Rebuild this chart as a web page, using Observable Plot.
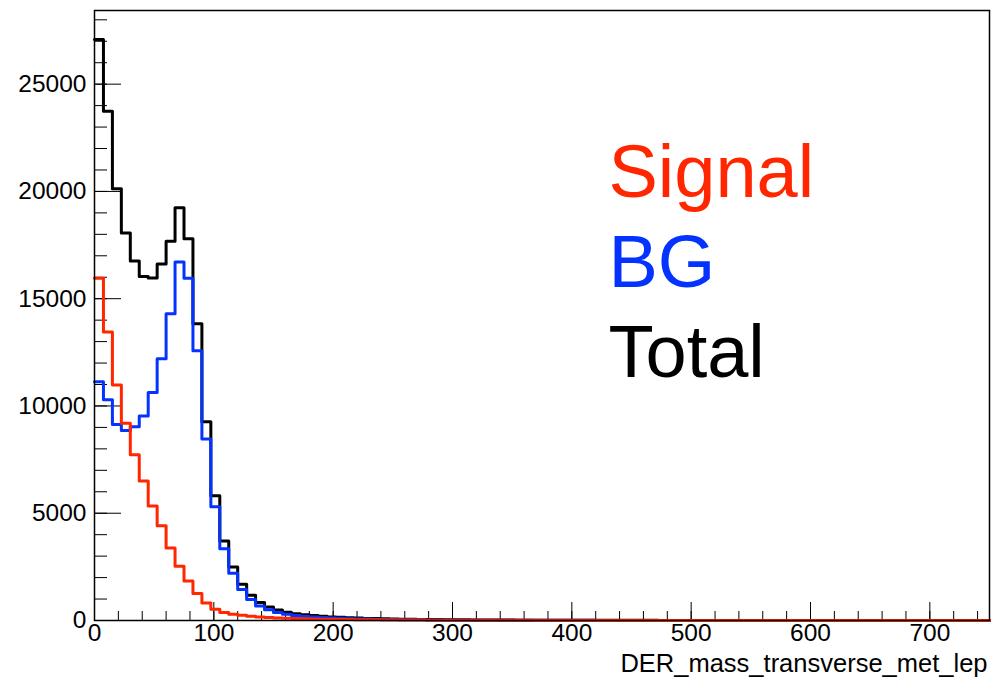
<!DOCTYPE html>
<html>
<head>
<meta charset="utf-8">
<script src="https://cdn.jsdelivr.net/npm/d3@7"></script>
<script src="https://cdn.jsdelivr.net/npm/@observablehq/plot@0.6"></script>
<style>
  html, body { margin: 0; padding: 0; background: #fff; }
  #chart svg { display: block; }
</style>
</head>
<body>
<div id="chart"></div>
<script>
// ---- data (100 bins of width 7.5 over 0..750) ----
const xMin = 0;
const xMax = 750;
const nBins = 100;

const signal = [
  15950, 13450, 10980, 9200, 7730, 6500, 5340, 4420, 3380, 2530,
  1840, 1260, 810, 520, 370, 290, 240, 195, 160, 135,
  115, 100, 88, 78, 68, 60, 53, 47, 42, 37,
  33, 30, 27, 24, 22, 20, 18, 16, 15, 13,
  12, 11, 10, 9, 8, 8, 7, 6, 6, 5,
  5, 4, 4, 4, 3, 3, 3, 3, 2, 2,
  2, 2, 2, 2, 2, 1, 1, 1, 1, 1,
  1, 1, 1, 1, 1, 1, 1, 1, 1, 1,
  1, 1, 1, 1, 1, 0, 0, 0, 0, 0,
  0, 0, 0, 0, 0, 0, 0, 0, 0, 0
];

const background = [
  11130, 10290, 9140, 8860, 9030, 9530, 10630, 12200, 14300, 16710,
  15950, 12570, 8460, 5300, 3340, 2200, 1450, 980, 680, 500,
  370, 290, 230, 190, 160, 135, 115, 100, 86, 75,
  66, 58, 51, 45, 40, 36, 32, 29, 26, 23,
  21, 19, 17, 15, 14, 13, 12, 11, 10, 9,
  8, 8, 7, 7, 6, 6, 5, 5, 5, 4,
  4, 4, 4, 3, 3, 3, 3, 3, 2, 2,
  2, 2, 2, 2, 2, 2, 2, 1, 1, 1,
  1, 1, 1, 1, 1, 1, 1, 1, 1, 1,
  1, 1, 1, 1, 1, 1, 1, 1, 1, 1
];

const total = [
  27080, 23740, 20120, 18060, 16760, 16030, 15970, 16620, 17680, 19240,
  17790, 13830, 9270, 5820, 3710, 2490, 1690, 1175, 840, 635,
  485, 390, 318, 268, 228, 195, 168, 147, 128, 112,
  99, 88, 78, 69, 62, 56, 50, 45, 41, 36,
  33, 30, 27, 24, 22, 21, 19, 17, 16, 14,
  13, 12, 11, 11, 9, 9, 8, 8, 7, 6,
  6, 6, 6, 5, 5, 4, 4, 4, 3, 3,
  3, 3, 3, 3, 3, 3, 3, 2, 2, 2,
  2, 2, 2, 2, 2, 1, 1, 1, 1, 1,
  1, 1, 1, 1, 1, 1, 1, 1, 1, 1
];

const xMajorTicks = [0, 100, 200, 300, 400, 500, 600, 700];
const xMinorStep = 20;
const yMajorTicks = [0, 5000, 10000, 15000, 20000, 25000];
const yMinorStep = 1000;
const xTitle = "DER_mass_transverse_met_lep";

const legendLabels = ["Signal", "BG", "Total"];
const legendColors = ["#ff2600", "#0433ff", "#000000"];

// ---- build ----
const binWidth = (xMax - xMin) / nBins;
function steps(values) {
  const pts = values.map((v, i) => ({x: xMin + i * binWidth, y: v}));
  pts.push({x: xMax, y: values[values.length - 1]});
  return pts;
}
const yTop = 1.05 * d3.max(total);
const xMinorTicks = d3.range(xMin, xMax + 1e-9, xMinorStep);
const yMinorTicks = d3.range(0, yTop, yMinorStep);

const W = 993, H = 678;
const mL = 94, mR = 4, mT = 10, mB = 58;
const plotW = W - mL - mR, plotH = H - mT - mB;
const font = "'Liberation Sans', Arial, Helvetica, sans-serif";

const chart = Plot.plot({
  width: W,
  height: H,
  marginLeft: mL,
  marginRight: mR,
  marginTop: mT,
  marginBottom: mB,
  style: {fontFamily: font, background: "#fff", color: "#000"},
  x: {domain: [xMin, xMax]},
  y: {domain: [0, yTop]},
  marks: [
    // inward ticks (ROOT style)
    Plot.tickX(xMinorTicks, {x: d => d, stroke: "#000", strokeWidth: 1, insetTop: plotH - 9}),
    Plot.tickX(xMajorTicks, {x: d => d, stroke: "#000", strokeWidth: 1, insetTop: plotH - 18}),
    Plot.tickY(yMinorTicks, {y: d => d, stroke: "#000", strokeWidth: 1, insetRight: plotW - 13}),
    Plot.tickY(yMajorTicks, {y: d => d, stroke: "#000", strokeWidth: 1, insetRight: plotW - 27}),
    // tick labels
    Plot.axisX({ticks: xMajorTicks, tickSize: 0, tickPadding: 3, fontSize: 24.5, label: null, tickFormat: d => String(d)}),
    Plot.axisY({ticks: yMajorTicks, tickSize: 0, tickPadding: 8, fontSize: 24.5, label: null, tickFormat: d => String(d)}),
    // histograms
    Plot.line(steps(total), {x: "x", y: "y", curve: "step-after", stroke: legendColors[2], strokeWidth: 3}),
    Plot.line(steps(background), {x: "x", y: "y", curve: "step-after", stroke: legendColors[1], strokeWidth: 3}),
    Plot.line(steps(signal), {x: "x", y: "y", curve: "step-after", stroke: legendColors[0], strokeWidth: 3}),
    Plot.frame({stroke: "#000", strokeWidth: 1.5}),
    // axis title
    Plot.text([xTitle], {text: d => d, frameAnchor: "bottom-right", textAnchor: "end", lineAnchor: "bottom", dx: -2, dy: 51, fontSize: 25.5, fill: "#000"}),
    // legend
    ...legendLabels.map((lab, i) =>
      Plot.text([lab], {text: d => d, frameAnchor: "top-left", textAnchor: "start", lineAnchor: "bottom",
        dx: 514, dy: 186 + i * 90, fontSize: 74, fill: legendColors[i]})
    )
  ]
});
document.getElementById("chart").appendChild(chart);
</script>
</body>
</html>
